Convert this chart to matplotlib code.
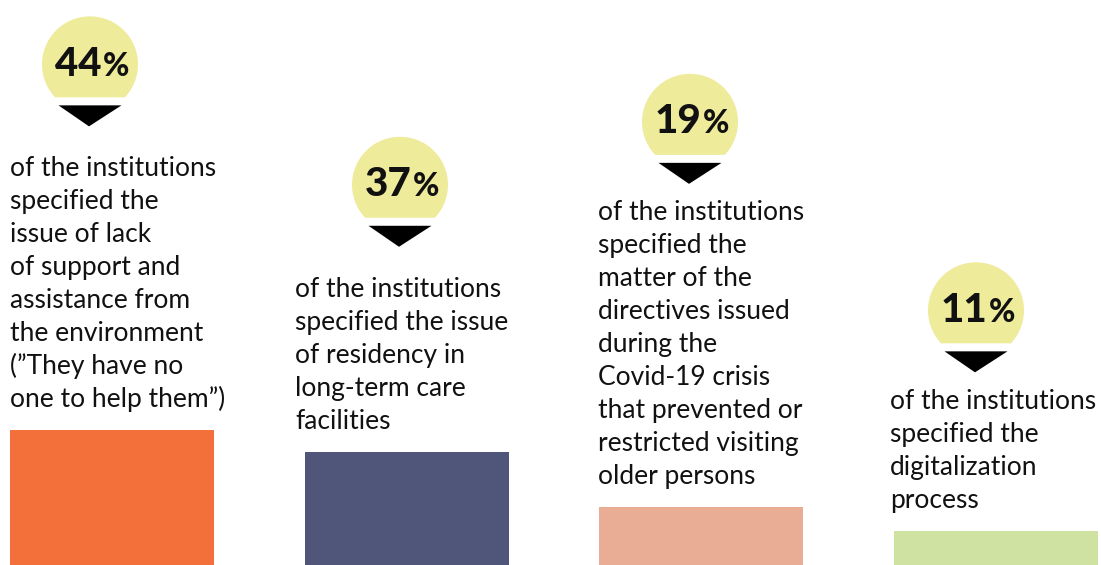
import numpy as np
import matplotlib
matplotlib.use("Agg")
import matplotlib.pyplot as plt
from matplotlib.patches import Polygon
from matplotlib.offsetbox import TextArea, HPacker, AnnotationBbox

# data
values = [44, 37, 19, 11]
bar_colors = ["#f3703a", "#4f5679", "#e8ad94", "#cfe2a2"]
labels = [
    ["of the institutions", "specified the", "issue of lack", "of support and",
     "assistance from", "the environment", "(\u201dThey have no", "one to help them\u201d)"],
    ["of the institutions", "specified the issue", "of residency in",
     "long-term care", "facilities"],
    ["of the institutions", "specified the", "matter of the", "directives issued",
     "during the", "Covid-19 crisis", "that prevented or", "restricted visiting",
     "older persons"],
    ["of the institutions", "specified the", "digitalization", "process"],
]

# layout (pixels)
W, H = 1101, 565
k = 3.06            # px per percent
bar_w = 204
bar_x = 112 + np.arange(4) * 294.7
text_x = [10, 295, 598, 890]
circ_x = [90, 400, 690, 976]
gap = [50, 50, 36, 37]
line_h = 33
r = 48

font = "Lato"
txt_col = "#111111"

fig = plt.figure(figsize=(W / 100, H / 100), dpi=100)
ax = fig.add_axes([0, 0, 1, 1])
ax.set_xlim(0, W)
ax.set_ylim(0, H)
ax.axis("off")

ax.bar(bar_x, [v * k for v in values], width=bar_w, color=bar_colors)

for i, v in enumerate(values):
    top = v * k
    lines = labels[i]
    n = len(lines)
    for j, ln in enumerate(lines):
        y = top + 23 + (n - 1 - j) * line_h
        ax.text(text_x[i], y, ln, fontsize=19, family=font, color=txt_col,
                ha="left", va="baseline")
    first = top + 23 + (n - 1) * line_h
    apex = first + gap[i]
    ttop = apex + 21
    cx = circ_x[i]
    ax.add_patch(Polygon([[cx - 31.5, ttop], [cx + 31.5, ttop], [cx - 1, apex]],
                         closed=True, color="black", lw=0))
    cut = ttop + 8
    cy = cut + 33
    th0 = np.arcsin((cut - cy) / r)
    th = np.linspace(th0, np.pi - th0, 100)
    ax.add_patch(Polygon(np.c_[cx + r * np.cos(th), cy + r * np.sin(th)],
                         closed=True, color="#eeeb9b", lw=0))
    num = TextArea(str(v), textprops=dict(fontsize=29, family=font,
                                          weight="black", color=txt_col))
    pct = TextArea("%", textprops=dict(fontsize=23, family=font,
                                       weight="black", color=txt_col))
    box = HPacker(children=[num, pct], align="baseline", pad=0, sep=1)
    ab = AnnotationBbox(box, (cx + 2, cy), frameon=False, box_alignment=(0.5, 0.5))
    ax.add_artist(ab)

fig.savefig("out.png", dpi=100)
